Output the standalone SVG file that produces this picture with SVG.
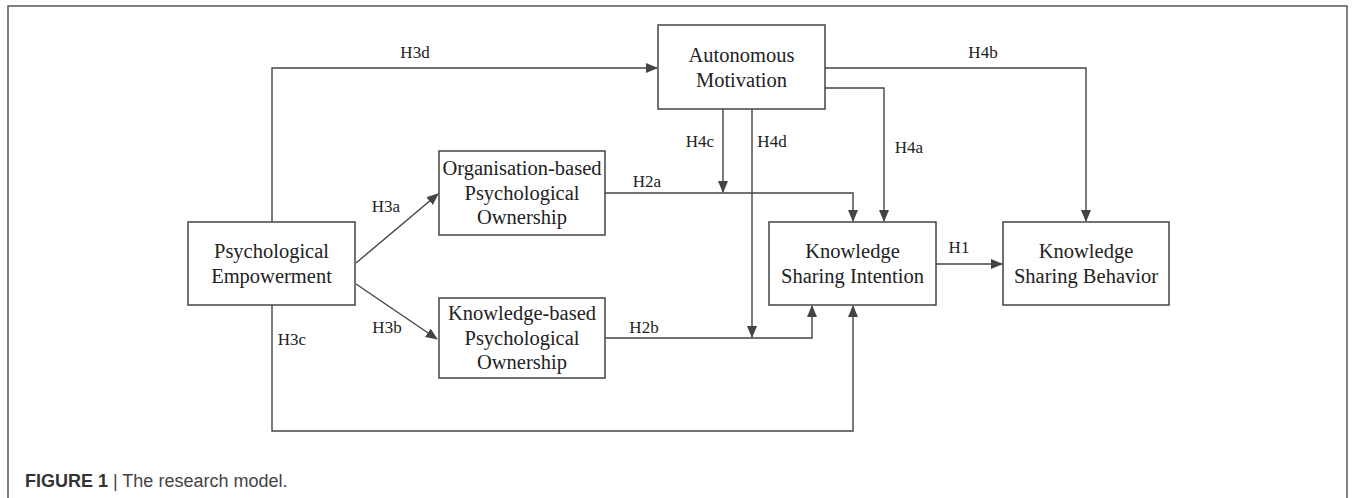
<svg xmlns="http://www.w3.org/2000/svg" width="1357" height="498" viewBox="0 0 1357 498">
<style>
.box{fill:#fff;stroke:#444;stroke-width:1.5}
.nt{font-family:"Liberation Serif","Times New Roman",serif;font-size:20.5px;fill:#222;text-anchor:middle}
.lb{font-family:"Liberation Serif","Times New Roman",serif;font-size:17px;fill:#222;text-anchor:middle}
.c{fill:none;stroke:#444;stroke-width:1.4}
.cap{font-family:"Liberation Sans",Arial,sans-serif;font-size:18px;fill:#444}
</style>
<defs>
<marker id="ah" markerUnits="userSpaceOnUse" markerWidth="12" markerHeight="10" refX="11" refY="5" orient="auto">
<path d="M0,0 L12,5 L0,10 Z" fill="#444"/>
</marker>
</defs>
<rect x="0" y="0" width="1357" height="498" fill="#fff"/>
<rect x="8" y="6" width="1339" height="510" fill="none" stroke="#555" stroke-width="1.5"/>

<g id="connectors">
<path class="c" d="M272,222 V68 H657" marker-end="url(#ah)"/>
<path class="c" d="M272,305 V431 H853 V306" marker-end="url(#ah)"/>
<path class="c" d="M356,263 L438,194" marker-end="url(#ah)"/>
<path class="c" d="M356,284 L437,339" marker-end="url(#ah)"/>
<path class="c" d="M605,193 H853 V221" marker-end="url(#ah)"/>
<path class="c" d="M605,338 H812 V306" marker-end="url(#ah)"/>
<path class="c" d="M723,109 V192" marker-end="url(#ah)"/>
<path class="c" d="M752,109 V337" marker-end="url(#ah)"/>
<path class="c" d="M825,88 H884 V221" marker-end="url(#ah)"/>
<path class="c" d="M825,68 H1086 V221" marker-end="url(#ah)"/>
<path class="c" d="M936,264 H1002" marker-end="url(#ah)"/>
<text class="lb" x="415" y="58">H3d</text>
<text class="lb" x="983" y="58">H4b</text>
<text class="lb" x="386" y="212">H3a</text>
<text class="lb" x="387" y="333">H3b</text>
<text class="lb" x="292" y="345">H3c</text>
<text class="lb" x="700" y="147">H4c</text>
<text class="lb" x="772" y="147">H4d</text>
<text class="lb" x="909" y="153">H4a</text>
<text class="lb" x="647" y="187">H2a</text>
<text class="lb" x="644" y="333">H2b</text>
<text class="lb" x="959" y="253">H1</text>
</g>

<g id="autonomous-motivation">
<rect class="box" x="658" y="25" width="167" height="84"/>
<text class="nt" x="741.5" y="62">Autonomous</text>
<text class="nt" x="741.5" y="87">Motivation</text>
</g>

<g id="psychological-empowerment">
<rect class="box" x="188" y="222" width="167" height="83"/>
<text class="nt" x="271.5" y="258">Psychological</text>
<text class="nt" x="271.5" y="283">Empowerment</text>
</g>

<g id="organisation-based-po">
<rect class="box" x="439" y="151" width="166" height="84"/>
<text class="nt" x="522" y="175">Organisation-based</text>
<text class="nt" x="522" y="200">Psychological</text>
<text class="nt" x="522" y="224">Ownership</text>
</g>

<g id="knowledge-based-po">
<rect class="box" x="439" y="298" width="166" height="80"/>
<text class="nt" x="522" y="320">Knowledge-based</text>
<text class="nt" x="522" y="345">Psychological</text>
<text class="nt" x="522" y="369">Ownership</text>
</g>

<g id="knowledge-sharing-intention">
<rect class="box" x="769" y="222" width="167" height="83"/>
<text class="nt" x="852.5" y="258">Knowledge</text>
<text class="nt" x="852.5" y="283">Sharing Intention</text>
</g>

<g id="knowledge-sharing-behavior">
<rect class="box" x="1003" y="222" width="166" height="83"/>
<text class="nt" x="1086" y="258">Knowledge</text>
<text class="nt" x="1086" y="283">Sharing Behavior</text>
</g>

<text class="cap" x="25" y="487"><tspan font-weight="bold" fill="#333">FIGURE 1</tspan> | The research model.</text>
</svg>
